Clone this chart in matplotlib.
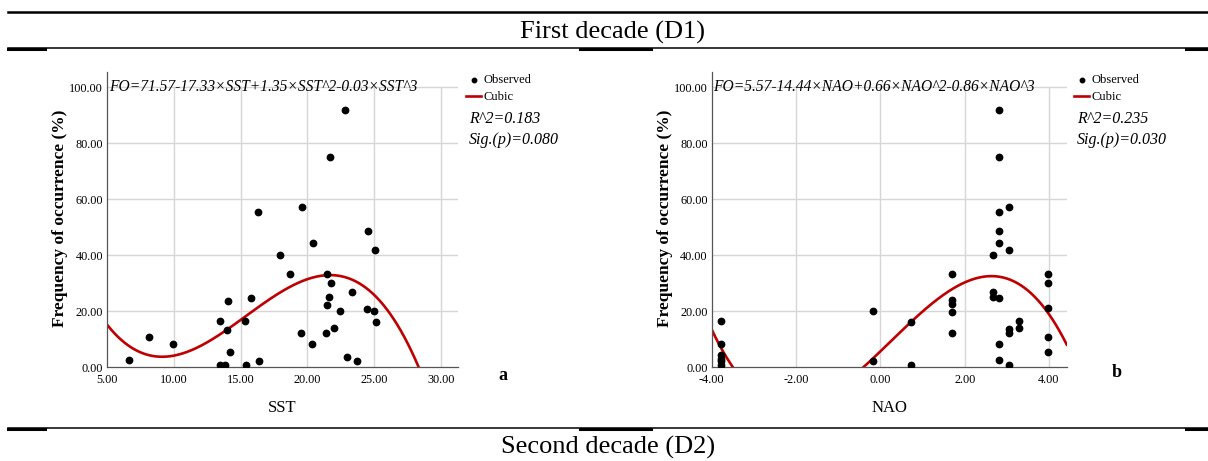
import numpy as np
import matplotlib.pyplot as plt
from matplotlib.lines import Line2D

plt.rcParams['font.family'] = ['Liberation Serif', 'DejaVu Serif']

W, H = 1208, 461

# --- observations: frequency of occurrence vs SST (panel a) ---
sst = [6.65, 8.15, 9.95, 13.45, 13.48, 13.83, 14.0, 14.05, 14.2, 15.3, 15.38,
       15.8, 16.33, 16.4, 17.98, 18.73, 19.5, 19.6, 20.37, 20.45, 21.4, 21.45,
       21.5, 21.65, 21.7, 21.76, 22.0, 22.45, 22.83, 23.0, 23.33, 23.73, 24.5,
       24.53, 24.98, 25.06, 25.13]
fo_sst = [2.6, 10.8, 8.1, 0.8, 16.5, 0.8, 13.2, 23.6, 5.5, 16.5, 0.7,
          24.5, 55.5, 2.0, 40.0, 33.2, 12.3, 57.1, 8.1, 44.4, 12.3, 33.2,
          22.0, 24.9, 75.1, 29.9, 14.0, 19.9, 91.8, 3.7, 26.7, 2.0, 20.8,
          48.6, 19.9, 41.8, 16.1]

# --- observations: frequency of occurrence vs NAO (panel b) ---
nao = [-3.78, -3.78, -3.78, -3.78, -3.78, -3.78,
       -0.17, -0.17, 0.72, 0.72,
       1.71, 1.71, 1.71, 1.71, 1.71,
       2.68, 2.68, 2.68,
       2.81, 2.81, 2.81, 2.81, 2.81, 2.81, 2.81, 2.81,
       3.04, 3.04, 3.04, 3.04, 3.04,
       3.29, 3.29,
       3.97, 3.97, 3.97, 3.97, 3.97]
fo_nao = [16.5, 8.1, 4.2, 3.0, 2.0, 0.8,
          19.9, 2.0, 16.0, 0.7,
          33.2, 23.9, 22.5, 19.8, 12.3,
          40.0, 26.7, 25.0,
          91.8, 75.1, 55.5, 48.6, 44.4, 24.5, 8.1, 2.6,
          57.1, 41.8, 13.5, 12.1, 0.7,
          16.5, 14.1,
          33.4, 29.9, 21.0, 10.8, 5.5]

# cubic fit coefficients, ascending order (b0, b1, b2, b3)
coef_sst = [71.57, -17.33, 1.35, -0.0292]
coef_nao = [5.57, 14.44, 0.66, -0.86]

eq_sst = "FO=71.57-17.33×SST+1.35×SST^2-0.03×SST^3"
eq_nao = "FO=5.57-14.44×NAO+0.66×NAO^2-0.86×NAO^3"
stats_sst = ["R^2=0.183", "Sig.(p)=0.080"]
stats_nao = ["R^2=0.235", "Sig.(p)=0.030"]

xticks_sst = [5, 10, 15, 20, 25, 30]
xticks_nao = [-4, -2, 0, 2, 4]
yticks = [0, 20, 40, 60, 80, 100]


def fx(px):
    return px / W


def fy(py):
    return 1 - py / H


fig = plt.figure(figsize=(W / 100, H / 100), dpi=100)


def panel(rect, x, y, coef, xlim, xticks, xlabel, eq, stats, leg_x, letter):
    left, right = rect
    ax = fig.add_axes([fx(left), fy(367), fx(right - left), (367 - 72) / H])
    ax.set_xlim(*xlim)
    ax.set_ylim(0, 105.4)

    # light grid, stopping at 100 like the axis labels
    for t in xticks[1:]:
        ax.plot([t, t], [0, 100], color='#d6d6d6', lw=1.0, zorder=0)
    for t in yticks[1:]:
        ax.plot(xlim, [t, t], color='#d6d6d6', lw=1.0, zorder=0)

    pts = ax.scatter(x, y, s=21, color='black', zorder=3, label='Observed')
    xs = np.linspace(xlim[0], xlim[1], 400)
    ys = np.polynomial.polynomial.polyval(xs, coef)
    line, = ax.plot(xs, ys, color='#c00000', lw=1.9, zorder=2, label='Cubic')

    ax.set_xticks(xticks)
    ax.set_xticklabels([f"{t:.2f}" for t in xticks], fontsize=8.8)
    ax.set_yticks(yticks)
    ax.set_yticklabels([f"{t:.2f}" for t in yticks], fontsize=8.8)
    ax.tick_params(length=0, pad=3)
    ax.tick_params(axis='x', pad=5)
    for s in ['top', 'right']:
        ax.spines[s].set_visible(False)
    for s in ['left', 'bottom']:
        ax.spines[s].set_color('#555555')
        ax.spines[s].set_linewidth(0.9)

    ax.text(0.005, 0.95, eq, transform=ax.transAxes, fontsize=11.2,
            style='italic', ha='left', va='center')

    ax.legend(handles=[pts, line], loc='upper left', frameon=False,
              bbox_to_anchor=(fx(leg_x), fy(74)),
              bbox_transform=fig.transFigure, fontsize=9,
              handlelength=1.2, handletextpad=0.2, labelspacing=0.4,
              borderpad=0, borderaxespad=0, markerscale=0.7)
    fig.text(fx(leg_x + 3), fy(119), stats[0], fontsize=11.5, style='italic',
             ha='left', va='center')
    fig.text(fx(leg_x + 3), fy(140), stats[1], fontsize=11.5, style='italic',
             ha='left', va='center')

    fig.text(fx((left + right) / 2), fy(408), xlabel, fontsize=12,
             ha='center', va='center')
    fig.text(fx(left - 47), fy(218), "Frequency of occurrence (%)",
             fontsize=12.5, fontweight='bold', rotation=90,
             ha='center', va='center')
    fig.text(fx(letter[1]), fy(letter[2]), letter[0], fontsize=13,
             fontweight='bold', ha='center', va='center')
    return ax


panel((107.3, 458), sst, fo_sst, coef_sst, (5, 31.3), xticks_sst, "SST",
      eq_sst, stats_sst, 466, ("a", 503, 376))
panel((711.7, 1066.7), nao, fo_nao, coef_nao, (-4, 4.42), xticks_nao, "NAO",
      eq_nao, stats_nao, 1074, ("b", 1117, 372))


# horizontal rules of the table layout
def rule(y, x0, x1, lw):
    fig.add_artist(Line2D([fx(x0), fx(x1)], [fy(y), fy(y)],
                          transform=fig.transFigure, color='black', lw=lw))


rule(12, 8, 1208, 1.8)
for y in (48, 428):
    rule(y, 8, 1208, 1.1)
    for a, b in [(8, 45), (580, 651), (1186, 1208)]:
        rule(y + 0.8, a, b, 2.2)

fig.text(fx(612), fy(32), "First decade (D1)", fontsize=19,
         ha='center', va='center')
fig.text(fx(608), fy(447), "Second decade (D2)", fontsize=19,
         ha='center', va='center')

fig.savefig("out.png", dpi=100)
